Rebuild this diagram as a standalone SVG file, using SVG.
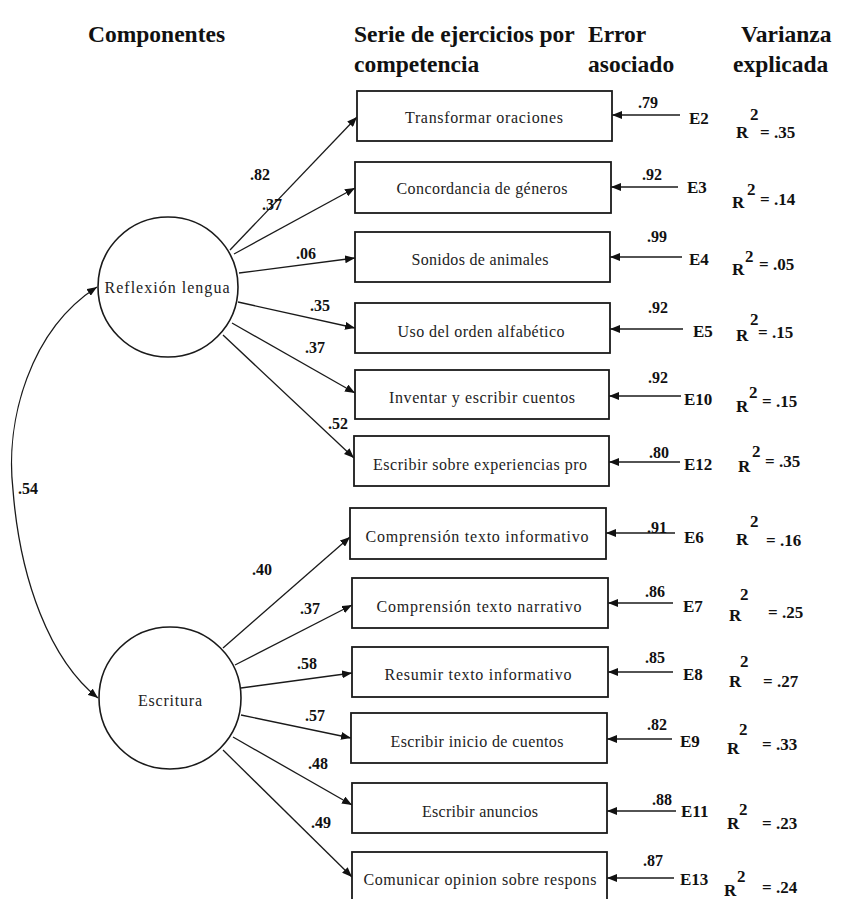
<svg xmlns="http://www.w3.org/2000/svg" width="856" height="899" viewBox="0 0 856 899">
  <style>
    .hdr { font-family: "Liberation Serif", "Times New Roman", serif; font-weight: bold; font-size: 23.5px; fill: #111; }
    .box { fill: #fff; stroke: #1a1a1a; stroke-width: 1.8; }
    .lbl { font-family: "Liberation Serif", "Times New Roman", serif; font-size: 16px; fill: #222; text-anchor: middle; }
    .lat { fill: #fff; stroke: #1a1a1a; stroke-width: 1.6; }
    .num { font-family: "Liberation Serif", "Times New Roman", serif; font-weight: bold; font-size: 16px; fill: #111; }
    .err { font-family: "Liberation Serif", "Times New Roman", serif; font-weight: bold; font-size: 17px; fill: #111; }
    .edge { fill: none; stroke: #1a1a1a; stroke-width: 1.3; marker-end: url(#arrow); }
  </style>
  <defs>
    <marker id="arrow" markerUnits="userSpaceOnUse" markerWidth="10" markerHeight="8" refX="10" refY="4" orient="auto">
      <path d="M0,0 L10,4 L0,8 z" fill="#111"/>
    </marker>
    <marker id="arrowStart" markerUnits="userSpaceOnUse" markerWidth="10" markerHeight="8" refX="10" refY="4" orient="auto-start-reverse">
      <path d="M0,0 L10,4 L0,8 z" fill="#111"/>
    </marker>
  </defs>
  <rect width="856" height="899" fill="#fff"/>

  <!-- column headings -->
  <g id="headings">
    <text class="hdr" x="88" y="42">Componentes</text>
    <text class="hdr" x="354" y="42">Serie de ejercicios por</text>
    <text class="hdr" x="354" y="72">competencia</text>
    <text class="hdr" x="588" y="42">Error</text>
    <text class="hdr" x="588" y="72">asociado</text>
    <text class="hdr" x="741" y="42">Varianza</text>
    <text class="hdr" x="733" y="72">explicada</text>
  </g>

  <!-- connectors -->
  <g id="connectors">
    <!-- correlation between the two components -->
    <path d="M97,287 C30,330 5,420 13,490 C20,580 50,660 98,698" fill="none" stroke="#1a1a1a" stroke-width="1.3" marker-start="url(#arrowStart)" marker-end="url(#arrow)"/>
    <!-- Reflexión lengua loadings -->
    <line class="edge" x1="230" y1="250" x2="357" y2="117"/>
    <line class="edge" x1="234" y1="254" x2="355" y2="188"/>
    <line class="edge" x1="239" y1="273" x2="355" y2="258"/>
    <line class="edge" x1="238" y1="302" x2="355" y2="328"/>
    <line class="edge" x1="232" y1="323" x2="355" y2="393"/>
    <line class="edge" x1="223" y1="335" x2="354" y2="458"/>
    <!-- Escritura loadings -->
    <line class="edge" x1="223" y1="648" x2="350" y2="537"/>
    <line class="edge" x1="235" y1="665" x2="352" y2="605"/>
    <line class="edge" x1="241" y1="688" x2="352" y2="673"/>
    <line class="edge" x1="241" y1="715" x2="351" y2="738"/>
    <line class="edge" x1="233" y1="737" x2="352" y2="805"/>
    <line class="edge" x1="223" y1="750" x2="352" y2="877"/>
    <!-- error terms -->
    <line class="edge" x1="680" y1="115" x2="612" y2="115"/>
    <line class="edge" x1="678" y1="187" x2="611" y2="187"/>
    <line class="edge" x1="682" y1="257" x2="610" y2="257"/>
    <line class="edge" x1="683" y1="329" x2="610" y2="329"/>
    <line class="edge" x1="681" y1="396" x2="609" y2="396"/>
    <line class="edge" x1="680" y1="462" x2="609" y2="462"/>
    <line class="edge" x1="675" y1="533" x2="606" y2="533"/>
    <line class="edge" x1="673" y1="603" x2="608" y2="603"/>
    <line class="edge" x1="673" y1="672" x2="608" y2="672"/>
    <line class="edge" x1="672" y1="739" x2="607" y2="739"/>
    <line class="edge" x1="676" y1="811" x2="607" y2="811"/>
    <line class="edge" x1="674" y1="878" x2="607" y2="878"/>
  </g>

  <!-- coefficient labels -->
  <g id="coefficients">
    <text class="num" x="18" y="494">.54</text>
    <text class="num" x="250" y="180">.82</text>
    <text class="num" x="262" y="210">.37</text>
    <text class="num" x="296" y="259">.06</text>
    <text class="num" x="310" y="311">.35</text>
    <text class="num" x="305" y="353">.37</text>
    <text class="num" x="328" y="429">.52</text>
    <text class="num" x="252" y="575">.40</text>
    <text class="num" x="300" y="614">.37</text>
    <text class="num" x="297" y="669">.58</text>
    <text class="num" x="305" y="721">.57</text>
    <text class="num" x="308" y="769">.48</text>
    <text class="num" x="311" y="828">.49</text>

    <text class="num" x="638" y="108">.79</text>
    <text class="num" x="642" y="180">.92</text>
    <text class="num" x="647" y="242">.99</text>
    <text class="num" x="648" y="313">.92</text>
    <text class="num" x="648" y="383">.92</text>
    <text class="num" x="649" y="458">.80</text>
    <text class="num" x="647" y="533">.91</text>
    <text class="num" x="645" y="597">.86</text>
    <text class="num" x="645" y="663">.85</text>
    <text class="num" x="647" y="730">.82</text>
    <text class="num" x="652" y="805">.88</text>
    <text class="num" x="643" y="866">.87</text>
  </g>

  <!-- latent components -->
  <g id="reflexion">
    <circle class="lat" cx="168" cy="287" r="70"/>
    <text class="lbl" x="167" y="293" textLength="125">Reflexión  lengua</text>
  </g>
  <g id="escritura">
    <circle class="lat" cx="170" cy="698" r="71"/>
    <text class="lbl" x="170" y="706" textLength="64">Escritura</text>
  </g>

  <!-- observed exercises -->
  <g id="ej1"><rect class="box" x="357" y="91" width="255" height="50"/><text class="lbl" x="484" y="123" textLength="158">Transformar oraciones</text></g>
  <g id="ej2"><rect class="box" x="355" y="162" width="256" height="51"/><text class="lbl" x="482" y="194" textLength="171">Concordancia de géneros</text></g>
  <g id="ej3"><rect class="box" x="355" y="232" width="255" height="50"/><text class="lbl" x="480" y="265" textLength="137">Sonidos de animales</text></g>
  <g id="ej4"><rect class="box" x="355" y="303" width="255" height="50"/><text class="lbl" x="481" y="337" textLength="167">Uso del orden alfabético</text></g>
  <g id="ej5"><rect class="box" x="355" y="370" width="254" height="49"/><text class="lbl" x="482" y="403" textLength="186">Inventar y escribir cuentos</text></g>
  <g id="ej6"><rect class="box" x="354" y="436" width="255" height="50"/><text class="lbl" x="480" y="470" textLength="214">Escribir sobre experiencias pro</text></g>
  <g id="ej7"><rect class="box" x="350" y="508" width="256" height="51"/><text class="lbl" x="477" y="542" textLength="223">Comprensión texto informativo</text></g>
  <g id="ej8"><rect class="box" x="352" y="578" width="256" height="50"/><text class="lbl" x="479" y="612" textLength="205">Comprensión texto narrativo</text></g>
  <g id="ej9"><rect class="box" x="352" y="647" width="256" height="50"/><text class="lbl" x="478" y="680" textLength="187">Resumir texto informativo</text></g>
  <g id="ej10"><rect class="box" x="351" y="713" width="256" height="50"/><text class="lbl" x="477" y="747" textLength="173">Escribir inicio de cuentos</text></g>
  <g id="ej11"><rect class="box" x="352" y="783" width="255" height="50"/><text class="lbl" x="480" y="817" textLength="116">Escribir anuncios</text></g>
  <g id="ej12"><rect class="box" x="352" y="852" width="255" height="53"/><text class="lbl" x="480" y="885" textLength="233">Comunicar opinion sobre respons</text></g>

  <!-- error terms -->
  <g id="errors">
    <text class="err" x="689" y="124">E2</text>
    <text class="err" x="687" y="193">E3</text>
    <text class="err" x="689" y="265">E4</text>
    <text class="err" x="693" y="337">E5</text>
    <text class="err" x="684" y="405">E10</text>
    <text class="err" x="684" y="470">E12</text>
    <text class="err" x="684" y="543">E6</text>
    <text class="err" x="683" y="612">E7</text>
    <text class="err" x="683" y="680">E8</text>
    <text class="err" x="680" y="747">E9</text>
    <text class="err" x="681" y="817">E11</text>
    <text class="err" x="680" y="885">E13</text>
  </g>

  <!-- explained variance -->
  <g id="r2">
    <text class="err" x="736" y="138">R</text><text class="err" x="750" y="120">2</text><text class="err" x="760" y="138">= .35</text>
    <text class="err" x="732" y="208">R</text><text class="err" x="747" y="195">2</text><text class="err" x="760" y="205">= .14</text>
    <text class="err" x="732" y="275">R</text><text class="err" x="745" y="262">2</text><text class="err" x="759" y="270">= .05</text>
    <text class="err" x="736" y="341">R</text><text class="err" x="750" y="325">2</text><text class="err" x="758" y="338">= .15</text>
    <text class="err" x="736" y="412">R</text><text class="err" x="749" y="398">2</text><text class="err" x="762" y="407">= .15</text>
    <text class="err" x="738" y="472">R</text><text class="err" x="752" y="457">2</text><text class="err" x="765" y="467">= .35</text>
    <text class="err" x="736" y="545">R</text><text class="err" x="750" y="527">2</text><text class="err" x="766" y="546">= .16</text>
    <text class="err" x="729" y="621">R</text><text class="err" x="740" y="600">2</text><text class="err" x="768" y="618">= .25</text>
    <text class="err" x="729" y="687">R</text><text class="err" x="740" y="667">2</text><text class="err" x="763" y="687">= .27</text>
    <text class="err" x="727" y="754">R</text><text class="err" x="739" y="735">2</text><text class="err" x="762" y="750">= .33</text>
    <text class="err" x="727" y="829">R</text><text class="err" x="739" y="815">2</text><text class="err" x="762" y="829">= .23</text>
    <text class="err" x="724" y="896">R</text><text class="err" x="737" y="882">2</text><text class="err" x="762" y="893">= .24</text>
  </g>
</svg>
